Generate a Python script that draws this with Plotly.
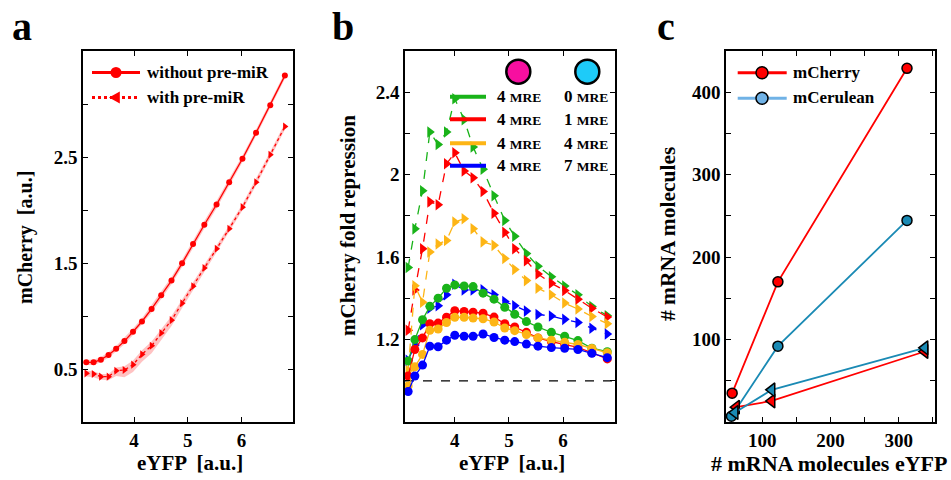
import numpy as np
import plotly.graph_objects as go

W, H = 951, 480

# ---------------- data ----------------
# panel a
a_x = [3.111, 3.247, 3.383, 3.525, 3.667, 3.821, 3.981, 4.148, 4.327, 4.506,
       4.698, 4.895, 5.099, 5.309, 5.537, 5.772, 6.019, 6.272, 6.537, 6.809]
a_without = [0.563, 0.563, 0.588, 0.632, 0.691, 0.763, 0.851, 0.948, 1.067, 1.196,
             1.334, 1.497, 1.679, 1.861, 2.052, 2.262, 2.484, 2.729, 2.989, 3.268]
a_with = [0.459, 0.453, 0.428, 0.428, 0.484, 0.491, 0.541, 0.638, 0.719, 0.839,
          0.961, 1.121, 1.281, 1.453, 1.635, 1.823, 2.027, 2.262, 2.522, 2.788]
a_without_err = [0.025, 0.025, 0.025, 0.025, 0.025, 0.03, 0.03, 0.03, 0.035, 0.035,
                 0.035, 0.035, 0.035, 0.035, 0.035, 0.035, 0.03, 0.03, 0.03, 0.03]
a_with_err_lo = [0.03, 0.03, 0.03, 0.035, 0.05, 0.07, 0.07, 0.07, 0.07, 0.065,
                 0.055, 0.045, 0.04, 0.035, 0.03, 0.03, 0.03, 0.03, 0.03, 0.03]
a_with_err_hi = [0.025, 0.025, 0.025, 0.025, 0.03, 0.035, 0.04, 0.04, 0.04, 0.04,
                 0.04, 0.035, 0.035, 0.03, 0.03, 0.03, 0.03, 0.03, 0.03, 0.03]

# panel b
b_x = [3.138, 3.262, 3.404, 3.539, 3.692, 3.847, 4.0, 4.172, 4.338, 4.522,
       4.725, 4.923, 5.107, 5.323, 5.537, 5.784, 6.03, 6.275, 6.533, 6.817]
b_green_circ = [1.096, 1.2, 1.296, 1.361, 1.401, 1.449, 1.465, 1.46, 1.457, 1.425,
                1.396, 1.357, 1.323, 1.287, 1.261, 1.235, 1.216, 1.195, 1.158, 1.141]
b_red_circ = [1.023, 1.152, 1.208, 1.277, 1.28, 1.308, 1.34, 1.336, 1.333, 1.328,
              1.309, 1.277, 1.261, 1.235, 1.208, 1.19, 1.176, 1.162, 1.136, 1.106]
b_orange_circ = [0.975, 1.068, 1.128, 1.245, 1.251, 1.283, 1.308, 1.308, 1.304, 1.301,
                 1.285, 1.256, 1.243, 1.224, 1.208, 1.197, 1.187, 1.176, 1.157, 1.136]
b_blue_circ = [0.948, 1.023, 1.076, 1.168, 1.165, 1.197, 1.221, 1.216, 1.216, 1.227,
               1.21, 1.197, 1.19, 1.178, 1.168, 1.161, 1.158, 1.152, 1.133, 1.112]
b_green_tri = [1.55, 1.737, 1.922, 2.207, 2.146, 2.207, 2.368, 2.267, 2.134, 2.026,
               1.898, 1.778, 1.701, 1.617, 1.556, 1.505, 1.46, 1.417, 1.36, 1.316]
b_red_tri = [1.245, 1.44, 1.641, 1.868, 1.854, 2.053, 2.106, 2.018, 1.985, 1.918,
             1.813, 1.72, 1.641, 1.582, 1.518, 1.473, 1.438, 1.396, 1.352, 1.309]
b_orange_tri = [1.05, 1.461, 1.381, 1.625, 1.664, 1.681, 1.77, 1.786, 1.738, 1.674,
                1.657, 1.593, 1.54, 1.486, 1.449, 1.417, 1.377, 1.348, 1.312, 1.277]
b_blue_tri = [1.10, 1.173, 1.272, 1.352, 1.364, 1.417, 1.468, 1.441, 1.441, 1.441,
              1.417, 1.385, 1.364, 1.338, 1.322, 1.314, 1.298, 1.283, 1.255, 1.227]
b_left_labels = ["4", "4", "4", "4"]
b_right_labels = ["0", "1", "4", "7"]
b_reference = 1.0

# panel c
c_cherry_circ_x = [56, 123, 312]
c_cherry_circ_y = [35, 170, 429]
c_cer_circ_x = [55, 123, 312]
c_cer_circ_y = [7, 92, 244.5]
c_cherry_tri_x = [62, 114, 338]
c_cherry_tri_y = [18, 25.5, 85.5]
c_cer_tri_x = [60, 114, 338]
c_cer_tri_y = [11.5, 39, 90]

# ---------------- style ----------------
FONT = "Liberation Serif"
RED = "#ff0000"
GREEN = "#19b319"
ORANGE = "#fdb515"
BLUE = "#0000ff"
CER = "#1a8ab4"
CER_LEG = "#70b2e6"
MAGENTA = "#f70fa0"
CYAN = "#1ecbf8"
BAND = "rgba(255,0,0,0.24)"


def px(x):
    return x / W


def py(y):
    return 1 - y / H


fig = go.Figure()

# ---------- panel a ----------
xa = np.array(a_x)
yw = np.array(a_without)
yp = np.array(a_with)
fig.add_trace(go.Scatter(x=xa, y=yw - np.array(a_without_err), mode="lines",
                         line=dict(width=0), showlegend=False, hoverinfo="skip",
                         xaxis="x", yaxis="y"))
fig.add_trace(go.Scatter(x=xa, y=yw + np.array(a_without_err), mode="lines",
                         line=dict(width=0), fill="tonexty",
                         fillcolor=BAND, showlegend=False,
                         hoverinfo="skip", xaxis="x", yaxis="y"))
fig.add_trace(go.Scatter(x=xa, y=yp - np.array(a_with_err_lo), mode="lines",
                         line=dict(width=0), showlegend=False, hoverinfo="skip",
                         xaxis="x", yaxis="y"))
fig.add_trace(go.Scatter(x=xa, y=yp + np.array(a_with_err_hi), mode="lines",
                         line=dict(width=0), fill="tonexty",
                         fillcolor=BAND, showlegend=False,
                         hoverinfo="skip", xaxis="x", yaxis="y"))
fig.add_trace(go.Scatter(x=a_x, y=a_without, mode="lines+markers",
                         line=dict(color=RED, width=1.3),
                         marker=dict(symbol="circle", size=6, color=RED),
                         showlegend=False, xaxis="x", yaxis="y"))
fig.add_trace(go.Scatter(x=a_x, y=a_with, mode="lines+markers",
                         line=dict(color=RED, width=1.3, dash="dot"),
                         marker=dict(symbol="triangle-right", size=7, color=RED),
                         showlegend=False, xaxis="x", yaxis="y"))

# ---------- panel b ----------
for ys, col in [(b_green_tri, GREEN), (b_red_tri, RED), (b_orange_tri, ORANGE), (b_blue_tri, BLUE)]:
    fig.add_trace(go.Scatter(x=b_x, y=ys, mode="lines+markers",
                             line=dict(color=col, width=1.3, dash="dash"),
                             marker=dict(symbol="triangle-right", size=10, color=col),
                             showlegend=False, xaxis="x2", yaxis="y2"))
for ys, col in [(b_green_circ, GREEN), (b_red_circ, RED), (b_orange_circ, ORANGE), (b_blue_circ, BLUE)]:
    fig.add_trace(go.Scatter(x=b_x, y=ys, mode="lines+markers",
                             line=dict(color=col, width=1.3),
                             marker=dict(symbol="circle", size=9, color=col),
                             showlegend=False, xaxis="x2", yaxis="y2"))

# ---------- panel c ----------
fig.add_trace(go.Scatter(x=c_cherry_circ_x, y=c_cherry_circ_y, mode="lines+markers",
                         line=dict(color=RED, width=1.8),
                         marker=dict(symbol="circle", size=10, color=RED,
                                     line=dict(color="black", width=1.5)),
                         showlegend=False, xaxis="x3", yaxis="y3"))
fig.add_trace(go.Scatter(x=c_cer_circ_x, y=c_cer_circ_y, mode="lines+markers",
                         line=dict(color=CER, width=1.8),
                         marker=dict(symbol="circle", size=10, color=CER,
                                     line=dict(color="black", width=1.5)),
                         showlegend=False, xaxis="x3", yaxis="y3"))
fig.add_trace(go.Scatter(x=c_cherry_tri_x, y=c_cherry_tri_y, mode="lines+markers",
                         line=dict(color=RED, width=1.8),
                         marker=dict(symbol="triangle-left", size=12, color=RED,
                                     line=dict(color="black", width=1.5)),
                         showlegend=False, xaxis="x3", yaxis="y3"))
fig.add_trace(go.Scatter(x=c_cer_tri_x, y=c_cer_tri_y, mode="lines+markers",
                         line=dict(color=CER, width=1.8),
                         marker=dict(symbol="triangle-left", size=12, color=CER,
                                     line=dict(color="black", width=1.5)),
                         showlegend=False, xaxis="x3", yaxis="y3"))

# ---------------- axes ----------------
tickfont = dict(family=FONT, size=19, color="black", weight="bold")


def axis(domain, rng, tickvals, ticktext, anchor):
    return dict(domain=domain, range=rng, tickvals=tickvals, ticktext=ticktext,
                showline=True, mirror="ticks", linecolor="black", linewidth=1.5,
                ticks="inside", ticklen=5, tickwidth=1, tickcolor="black",
                showgrid=False, zeroline=False, tickfont=tickfont, anchor=anchor,
                fixedrange=True)


ydom = [py(422), py(51)]
fig.update_layout(
    xaxis=axis([px(83), px(293)], [3.05, 6.96], [4, 5, 6], ["4", "5", "6"], "y"),
    yaxis=axis(ydom, [0, 3.5], [0.5, 1.0, 1.5, 2.0, 2.5, 3.0],
               ["0.5", "", "1.5", "", "2.5", ""], "x"),
    xaxis2=axis([px(405), px(615)], [3.08, 6.96], [4, 5, 6], ["4", "5", "6"], "y2"),
    yaxis2=axis(ydom, [0.8, 2.6], [1.0, 1.2, 1.4, 1.6, 1.8, 2.0, 2.2, 2.4],
                ["", "1.2", "", "1.6", "", "2", "", "2.4"], "x2"),
    xaxis3=axis([px(726), px(935)], [47, 353], [100, 150, 200, 250, 300, 350],
                ["100", "", "200", "", "300", ""], "y3"),
    yaxis3=axis(ydom, [0, 450], [50, 100, 150, 200, 250, 300, 350, 400],
                ["", "100", "", "200", "", "300", "", "400"], "x3"),
)

shapes = []
annotations = []

# reference line in b
shapes.append(dict(type="line", xref="x2 domain", yref="y2", x0=0, x1=1,
                   y0=b_reference, y1=b_reference,
                   line=dict(color="black", width=1.3, dash="dash"), layer="below"))


def txt(x, y, s, size=16, xanchor="left", yanchor="middle", textangle=0):
    annotations.append(dict(x=px(x), y=py(y), xref="paper", yref="paper", text=s,
                            showarrow=False, xanchor=xanchor, yanchor=yanchor,
                            textangle=textangle,
                            font=dict(family=FONT, size=size, color="black", weight="bold")))


def circle(cx, cy, r, fill, lw=0, lc="black"):
    shapes.append(dict(type="circle", xref="paper", yref="paper",
                       x0=px(cx - r), x1=px(cx + r), y0=py(cy + r), y1=py(cy - r),
                       fillcolor=fill, line=dict(color=lc, width=lw)))


def hline(x0, x1, y, col, w=3, dash="solid"):
    shapes.append(dict(type="line", xref="paper", yref="paper",
                       x0=px(x0), x1=px(x1), y0=py(y), y1=py(y),
                       line=dict(color=col, width=w, dash=dash)))


def tri_left(cx, cy, s, fill):
    p = "M {} {} L {} {} L {} {} Z".format(px(cx - s), py(cy), px(cx + s * 0.8), py(cy - s),
                                           px(cx + s * 0.8), py(cy + s))
    shapes.append(dict(type="path", xref="paper", yref="paper", path=p,
                       fillcolor=fill, line=dict(color=fill, width=0)))


# panel letters
txt(22, 26, "a", size=40, xanchor="center")
txt(343, 26, "b", size=40, xanchor="center")
txt(666, 26, "c", size=40, xanchor="center")

# axis titles
txt(190, 463, "eYFP  [a.u.]", size=21, xanchor="center")
txt(25, 238, "mCherry  [a.u.]", size=20, xanchor="center", textangle=-90)
txt(512, 463, "eYFP  [a.u.]", size=21, xanchor="center")
txt(348, 226, "mCherry fold repression", size=21, xanchor="center", textangle=-90)
txt(829, 463, "# mRNA molecules eYFP", size=22, xanchor="center")
txt(668, 234, "# mRNA molecules", size=21.5, xanchor="center", textangle=-90)

# legend a
hline(92, 140, 72.5, RED, 3)
circle(116, 72.5, 5.5, RED)
txt(145, 72, "without pre-miR", size=17)
hline(92, 140, 97.5, RED, 3, "dot")
tri_left(115, 97.5, 6, RED)
txt(145, 97, "with pre-miR", size=17)

# legend b
circle(518.3, 71.7, 12, MAGENTA, 2.5)
circle(587.3, 71.7, 12, CYAN, 2.5)
for yy, col, l, r in zip([96.7, 119.3, 143.3, 165.7], [GREEN, RED, ORANGE, BLUE],
                         b_left_labels, b_right_labels):
    hline(450, 486, yy, col, 4)
    txt(495, yy, l + " <span style='font-size:13.5px'>MRE</span>", size=17)
    txt(610, yy, r + " <span style='font-size:13.5px'>MRE</span>", size=17, xanchor="right")

# legend c
hline(737.7, 786.7, 72.7, RED, 3)
circle(762, 72.7, 6, RED, 1.5)
txt(791, 72, "mCherry", size=17)
hline(737.7, 786.7, 98.3, CER_LEG, 3)
circle(762, 98.3, 6, CER_LEG, 1.5)
txt(791, 98, "mCerulean", size=17)

fig.update_layout(width=W, height=H, margin=dict(l=0, r=0, t=0, b=0),
                  paper_bgcolor="white", plot_bgcolor="white",
                  shapes=shapes, annotations=annotations, showlegend=False)

fig.write_html("out.html", config={"displayModeBar": False},
               post_script="document.body.style.margin='0px';document.body.style.overflow='hidden';")
